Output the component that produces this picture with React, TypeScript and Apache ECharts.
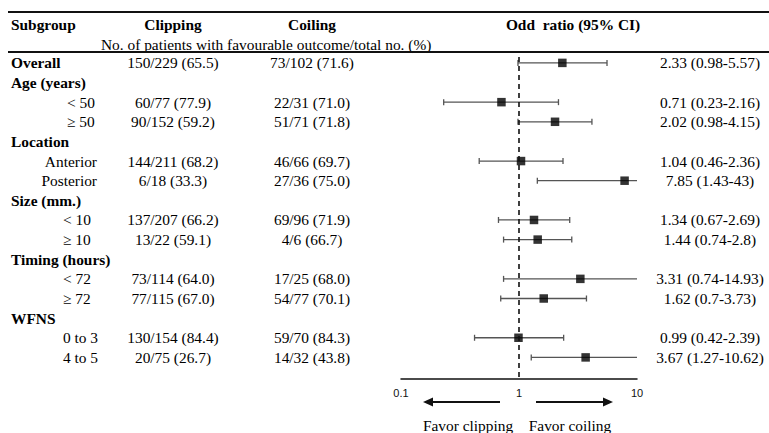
import React, { useEffect, useRef } from "react";
import * as echarts from "echarts";

const rowLabels = [
  "Overall", "Age (years)", "< 50", "≥ 50", "Location", "Anterior", "Posterior",
  "Size (mm.)", "< 10", "≥ 10", "Timing (hours)", "< 72", "≥ 72", "WFNS", "0 to 3", "4 to 5",
];
const rowGroup = [
  "overall", "age", "age", "age", "location", "location", "location",
  "size", "size", "size", "timing", "timing", "timing", "wfns", "wfns", "wfns",
];
const isHeading = [true, true, false, false, true, false, false, true, false, false, true, false, false, true, false, false];
const clippingCounts = [
  "150/229 (65.5)", "", "60/77 (77.9)", "90/152 (59.2)", "", "144/211 (68.2)", "6/18 (33.3)",
  "", "137/207 (66.2)", "13/22 (59.1)", "", "73/114 (64.0)", "77/115 (67.0)", "", "130/154 (84.4)", "20/75 (26.7)",
];
const coilingCounts = [
  "73/102 (71.6)", "", "22/31 (71.0)", "51/71 (71.8)", "", "46/66 (69.7)", "27/36 (75.0)",
  "", "69/96 (71.9)", "4/6 (66.7)", "", "17/25 (68.0)", "54/77 (70.1)", "", "59/70 (84.3)", "14/32 (43.8)",
];
const oddsRatio = [2.33, null, 0.71, 2.02, null, 1.04, 7.85, null, 1.34, 1.44, null, 3.31, 1.62, null, 0.99, 3.67];
const ciLow = [0.98, null, 0.23, 0.98, null, 0.46, 1.43, null, 0.67, 0.74, null, 0.74, 0.7, null, 0.42, 1.27];
const ciHigh = [5.57, null, 2.16, 4.15, null, 2.36, 43, null, 2.69, 2.8, null, 14.93, 3.73, null, 2.39, 10.62];
const axisMin = 0.1;
const axisMax = 10;

const SERIF = "Liberation Serif";
const SANS = "Liberation Sans";
const FS = 15.4;

export default function App() {
  const ref = useRef<HTMLDivElement>(null);
  useEffect(() => {
    if (!ref.current) return;
    const chart = echarts.init(ref.current, null, { renderer: "svg" });

    const orText = oddsRatio.map((v, i) => (v == null ? "" : `${v} (${ciLow[i]}-${ciHigh[i]})`));

    const labelPos = (i: number) => {
      if (isHeading[i]) return { x: 11, align: "left" };
      const g = rowGroup[i];
      if (g === "location") return { x: 97, align: "right" };
      if (g === "age") return { x: 67, align: "left" };
      return { x: 63, align: "left" };
    };

    const points = oddsRatio
      .map((v, i) => (v == null ? null : [v, i]))
      .filter((d) => d !== null);
    const ciData = oddsRatio
      .map((v, i) => (v == null ? null : [i, ciLow[i], ciHigh[i]]))
      .filter((d) => d !== null);

    const txt = (text: string, x: number, y: number, align: string, bold = false) => ({
      type: "text",
      style: {
        text, x, y, align, verticalAlign: "middle", fill: "#000",
        fontFamily: SERIF, fontSize: FS, fontWeight: bold ? "bold" : "normal",
      },
    });

    const option: any = {
      animation: false,
      grid: { left: 401, right: 132, top: 57, height: 322, containLabel: false },
      xAxis: {
        type: "log",
        logBase: 10,
        min: axisMin,
        max: axisMax,
        axisLine: { show: true, onZero: false, lineStyle: { color: "#111", width: 1.5 } },
        axisTick: { show: false },
        splitLine: { show: false },
        minorTick: { show: false },
        axisLabel: {
          color: "#111",
          fontFamily: SANS,
          fontSize: 11,
          margin: 8,
          formatter: (v: number) => String(Number(v.toPrecision(2))),
        },
      },
      yAxis: {
        type: "value",
        inverse: true,
        min: -0.3,
        max: 16.1,
        show: false,
      },
      series: [
        {
          type: "custom",
          name: "ci",
          clip: false,
          data: ciData,
          encode: { x: [1, 2], y: 0 },
          z: 2,
          renderItem: (params: any, api: any) => {
            const row = api.value(0);
            const lo = api.value(1);
            const hi = api.value(2);
            const a = api.coord([Math.max(lo, axisMin), row]);
            const b = api.coord([Math.min(hi, axisMax), row]);
            const st = { stroke: "#555", lineWidth: 1.3 };
            const children: any[] = [
              { type: "line", shape: { x1: a[0], y1: a[1], x2: b[0], y2: b[1] }, style: st },
            ];
            if (lo >= axisMin)
              children.push({ type: "line", shape: { x1: a[0], y1: a[1] - 3, x2: a[0], y2: a[1] + 3 }, style: st });
            if (hi <= axisMax)
              children.push({ type: "line", shape: { x1: b[0], y1: b[1] - 3, x2: b[0], y2: b[1] + 3 }, style: st });
            return { type: "group", children };
          },
        },
        {
          type: "scatter",
          name: "or",
          data: points,
          symbol: "rect",
          symbolSize: 8.5,
          itemStyle: { color: "#000" },
          z: 3,
          markLine: {
            silent: true,
            symbol: "none",
            label: { show: false },
            lineStyle: { color: "#111", type: [5, 4], width: 1.6 },
            data: [{ xAxis: 1 }],
          },
        },
        {
          type: "custom",
          name: "table",
          clip: false,
          silent: true,
          data: rowLabels.map((_, i) => [1, i]),
          encode: { x: 0, y: 1 },
          renderItem: (params: any, api: any) => {
            const i = params.dataIndex;
            const y = api.coord([1, i])[1];
            const lp = labelPos(i);
            const children: any[] = [txt(rowLabels[i], lp.x, y, lp.align, isHeading[i])];
            if (clippingCounts[i]) children.push(txt(clippingCounts[i], 173, y, "center"));
            if (coilingCounts[i]) children.push(txt(coilingCounts[i], 312, y, "center"));
            if (orText[i]) children.push(txt(orText[i], 710, y, "center"));
            return { type: "group", children };
          },
        },
      ],
      graphic: {
        elements: [
          { type: "rect", id: "rule1", z: 100, shape: { x: 8, y: 11, width: 761, height: 2 }, style: { fill: "#111" } },
          { type: "rect", id: "rule2", z: 100, shape: { x: 8, y: 51, width: 761, height: 2 }, style: { fill: "#111" } },
          txt("Subgroup", 11, 24, "left", true),
          txt("Clipping", 173, 24, "center", true),
          txt("Coiling", 312, 24, "center", true),
          txt("Odd  ratio (95% CI)", 573, 24, "center", true),
          txt("No. of patients with favourable outcome/total no. (%)", 101, 44, "left"),
          { type: "line", shape: { x1: 500, y1: 402, x2: 431, y2: 402 }, style: { stroke: "#111", lineWidth: 2 } },
          { type: "polygon", shape: { points: [[423, 402], [433, 397.5], [433, 406.5]] }, style: { fill: "#111" } },
          { type: "line", shape: { x1: 536, y1: 402, x2: 605, y2: 402 }, style: { stroke: "#111", lineWidth: 2 } },
          { type: "polygon", shape: { points: [[613, 402], [603, 397.5], [603, 406.5]] }, style: { fill: "#111" } },
          txt("Favor clipping", 468, 425, "center"),
          txt("Favor coiling", 570, 425, "center"),
        ],
      },
    };
    chart.setOption(option);
    return () => chart.dispose();
  }, []);
  return <div ref={ref} style={{ position: "fixed", left: 0, top: 0, width: 769, height: 433, background: "#fff" }} />;
}
